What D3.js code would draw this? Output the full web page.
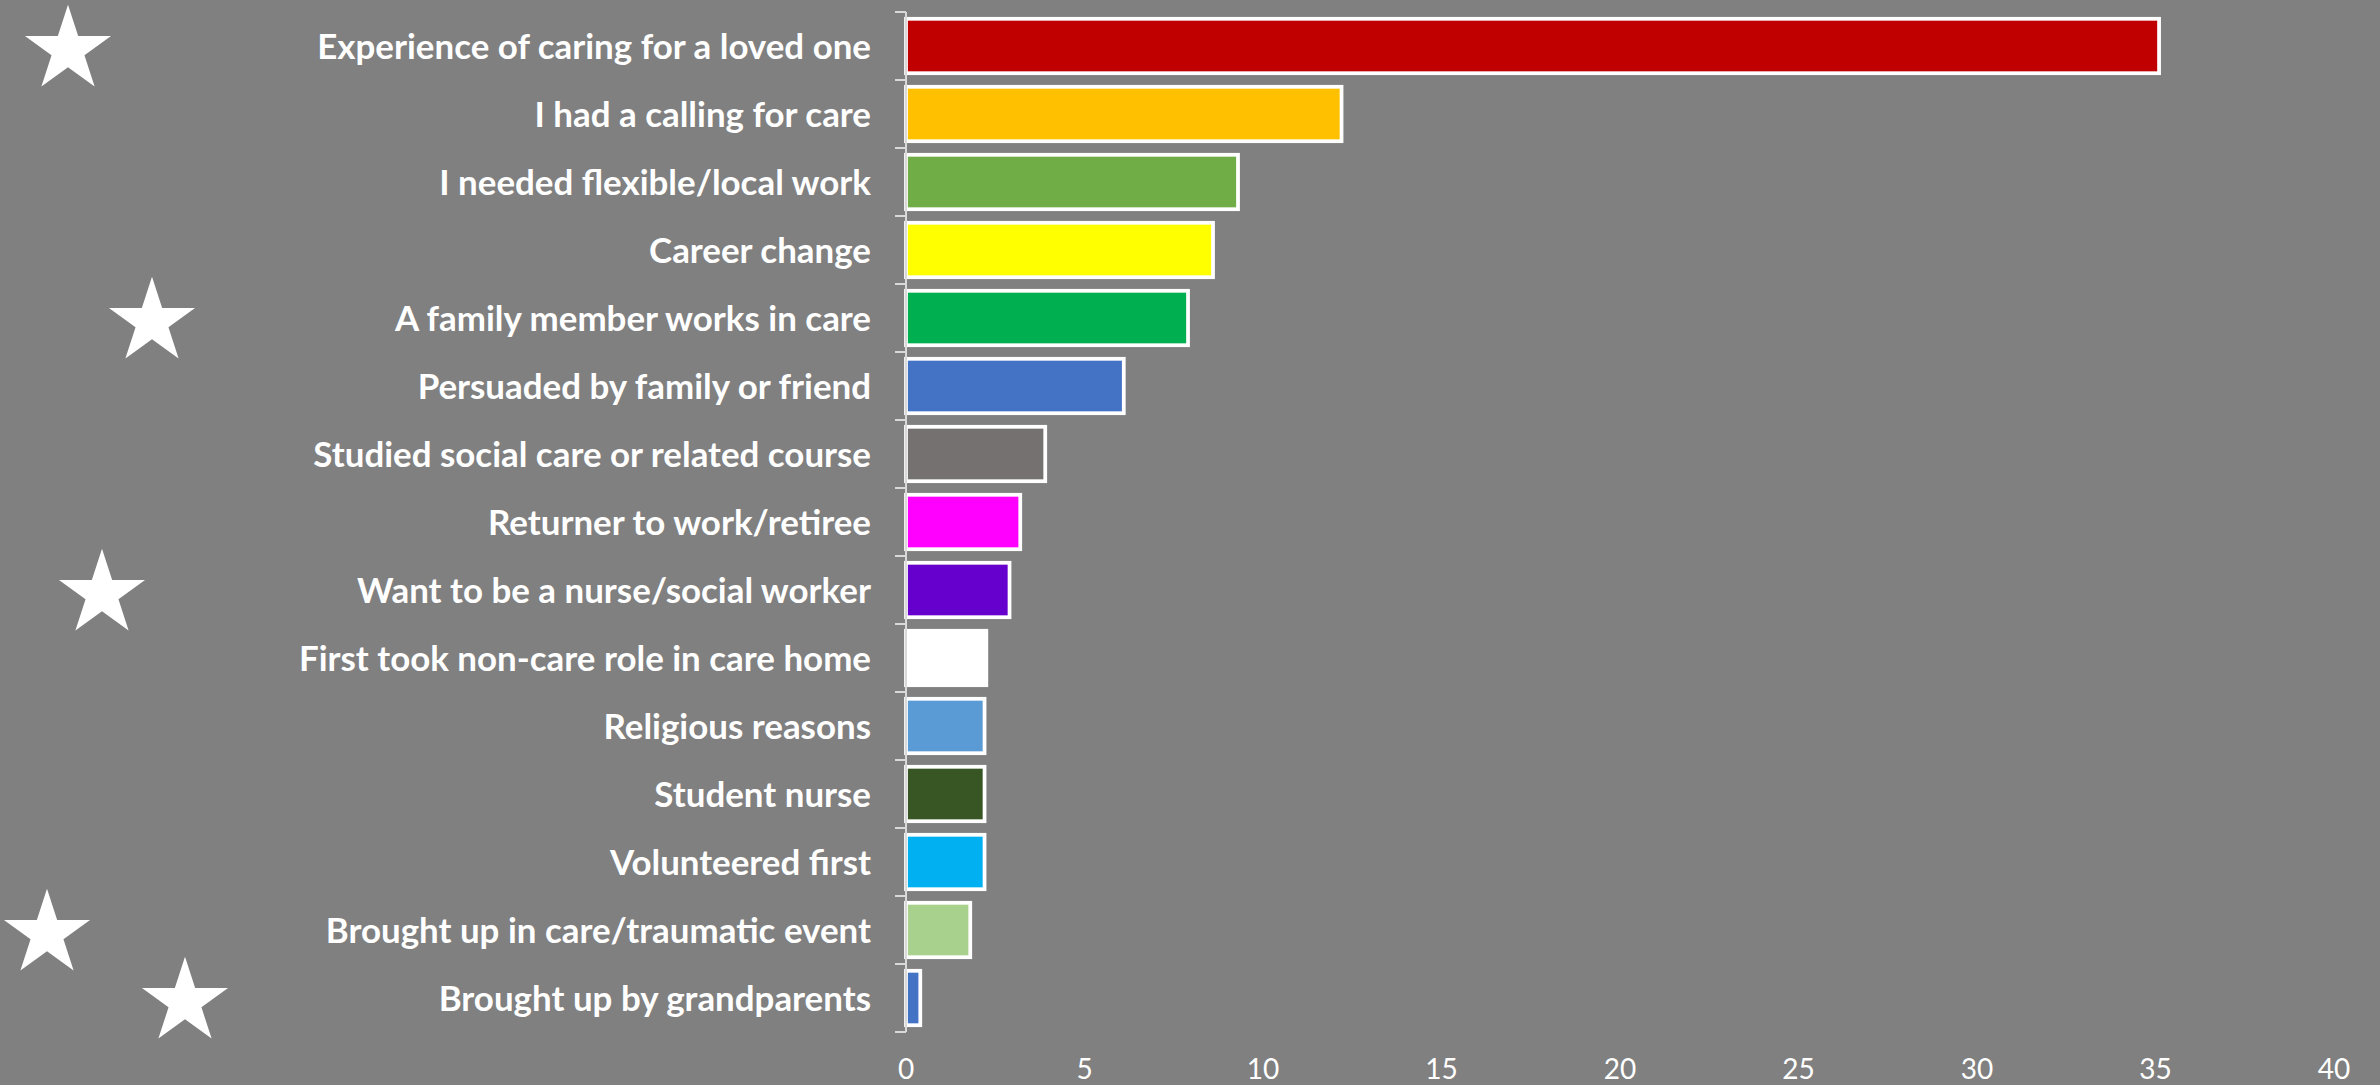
<!DOCTYPE html>
<html>
<head>
<meta charset="utf-8">
<script src="https://cdn.jsdelivr.net/npm/d3@7"></script>
<style>
    html, body { margin: 0; padding: 0; background: #808080; overflow: hidden; }
    .catLabel { font-family: Lato, "Open Sans", sans-serif; font-weight: 700; fill: #ffffff; }
    .tickLabel { font-family: Lato, "Open Sans", sans-serif; font-weight: 400; fill: #ffffff; }
</style>
</head>
<body>
<script>
(function(){

    //chart data
    var categories = [
        "Experience of caring for a loved one",
        "I had a calling for care",
        "I needed flexible/local work",
        "Career change",
        "A family member works in care",
        "Persuaded by family or friend",
        "Studied social care or related course",
        "Returner to work/retiree",
        "Want to be a nurse/social worker",
        "First took non-care role in care home",
        "Religious reasons",
        "Student nurse",
        "Volunteered first",
        "Brought up in care/traumatic event",
        "Brought up by grandparents"
    ];
    var values = [35.1, 12.2, 9.3, 8.6, 7.9, 6.1, 3.9, 3.2, 2.9, 2.25, 2.2, 2.2, 2.2, 1.8, 0.4];
    var barColors = ["#C00000", "#FFC000", "#70AD47", "#FFFF00", "#00B050", "#4472C4", "#767171",
        "#FF00FF", "#6600CC", "#FFFFFF", "#5B9BD5", "#375623", "#00B0F0", "#A9D18E", "#4472C4"];
    var xTicks = [0, 5, 10, 15, 20, 25, 30, 35, 40];
    //categories marked with a star
    var starred = [
        "Experience of caring for a loved one",
        "A family member works in care",
        "Want to be a nurse/social worker",
        "Brought up in care/traumatic event",
        "Brought up by grandparents"
    ];
    var starOffsets = [68, 152, 102, 47, 185]; //horizontal star positions

    window.onload = setChart();

    function setChart(){
        //frame dimensions
        var width = 2380,
            height = 1085,
            plotLeft = 906,
            plotRight = 2334,
            plotTop = 12,
            plotBottom = 1032;

        var svg = d3.select("body")
            .append("svg")
            .attr("width", width)
            .attr("height", height);

        svg.append("rect")
            .attr("width", width)
            .attr("height", height)
            .style("fill", "#808080");

        var xScale = d3.scaleLinear()
            .domain([0, 40])
            .range([plotLeft, plotRight]);

        var yScale = d3.scaleBand()
            .domain(categories)
            .range([plotTop, plotBottom])
            .paddingInner(0.2)
            .paddingOuter(0.1);

        //bars
        svg.selectAll(".bar")
            .data(values)
            .enter()
            .append("rect")
            .attr("class", "bar")
            .attr("x", xScale(0))
            .attr("y", function(d, i){ return yScale(categories[i]); })
            .attr("width", function(d){ return xScale(d) - xScale(0); })
            .attr("height", yScale.bandwidth())
            .style("fill", function(d, i){ return barColors[i]; })
            .style("stroke", "#ffffff")
            .style("stroke-width", 3.75);

        //vertical axis line and ticks between categories
        var step = yScale.step();
        var tickYs = d3.range(categories.length + 1).map(function(i){ return plotTop + i * step; });
        svg.append("line")
            .attr("x1", plotLeft).attr("x2", plotLeft)
            .attr("y1", plotTop).attr("y2", plotBottom)
            .style("stroke", "#d9d9d9")
            .style("stroke-width", 2);
        svg.selectAll(".ytick")
            .data(tickYs)
            .enter()
            .append("line")
            .attr("class", "ytick")
            .attr("x1", plotLeft - 11).attr("x2", plotLeft)
            .attr("y1", function(d){ return d; })
            .attr("y2", function(d){ return d; })
            .style("stroke", "#d9d9d9")
            .style("stroke-width", 2);

        //category labels
        var labels = svg.selectAll(".catLabel")
            .data(categories)
            .enter()
            .append("text")
            .attr("class", "catLabel")
            .attr("x", plotLeft - 35)
            .attr("y", function(d){ return yScale(d) + yScale.bandwidth() / 2; })
            .attr("dy", "0.36em")
            .attr("text-anchor", "end")
            .style("font-size", "32px")
            .text(function(d){ return d; });

        //fit font so the longest label matches the original width
        var longest = labels.filter(function(d, i){ return i === 0; }).node().getComputedTextLength();
        var fontSize = 32 * 554 / longest;
        labels.style("font-size", fontSize + "px");

        //x tick labels
        svg.selectAll(".tickLabel")
            .data(xTicks)
            .enter()
            .append("text")
            .attr("class", "tickLabel")
            .attr("x", function(d){ return xScale(d); })
            .attr("y", 1079)
            .attr("text-anchor", "middle")
            .style("font-size", "28px")
            .text(function(d){ return d; });

        //stars
        var star = d3.symbol().type(d3.symbolStar).size(2300);
        svg.selectAll(".star")
            .data(starred)
            .enter()
            .append("path")
            .attr("class", "star")
            .attr("d", star)
            .attr("transform", function(d, i){
                return "translate(" + starOffsets[i] + "," + (yScale(d) + yScale.bandwidth() / 2 + 4) + ")";
            })
            .style("fill", "#ffffff");
    };
})();
</script>
</body>
</html>
